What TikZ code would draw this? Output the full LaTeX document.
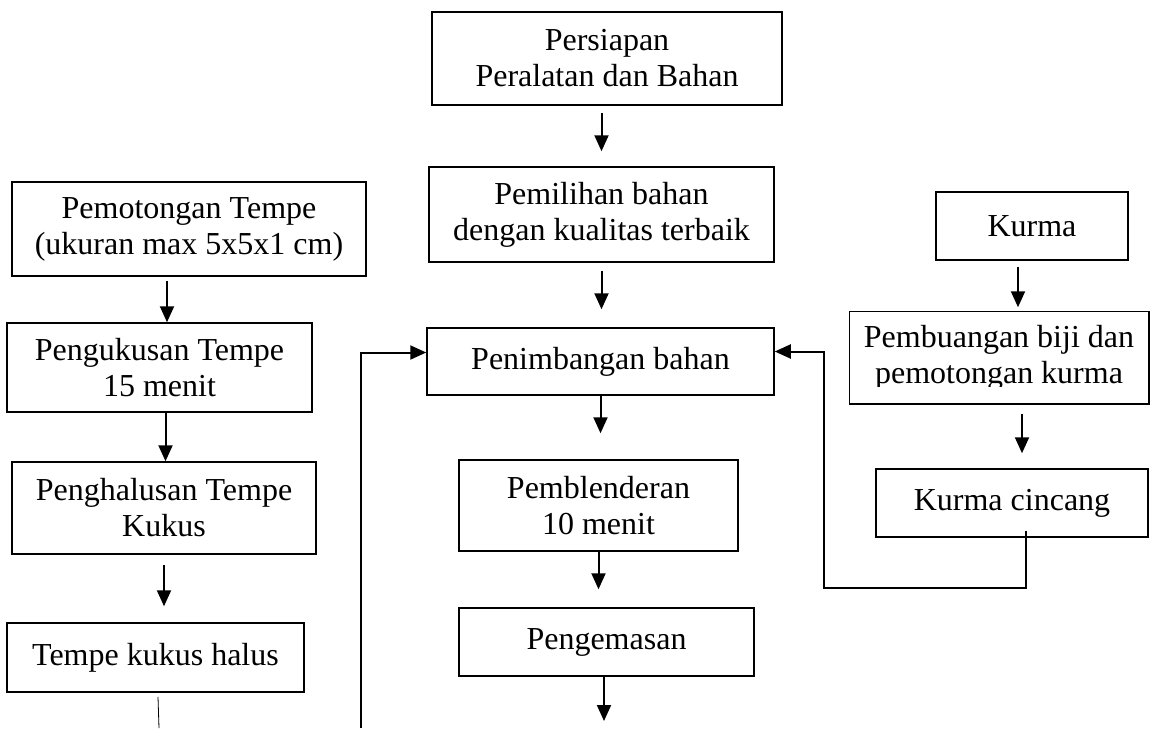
\documentclass[tikz,border=0pt]{standalone}
\usepackage{fontspec}
\setmainfont{Liberation Serif}
\usetikzlibrary{arrows.meta}

\tikzset{stage/.style={draw, line width=0.75pt, align=center, inner sep=0pt,
   font={\fontsize{16}{18}\selectfont}},
   flow/.style={-{Triangle[length=8pt,width=7pt]}, line width=1pt}}

\begin{document}
\begin{tikzpicture}[x=0.5pt,y=-0.5pt]
\useasboundingbox (0,0) rectangle (1150,728);
% middle column
\node[stage, minimum width=175pt, minimum height=46.5pt] (persiapan) at (607,58.5)
   {Persiapan\\Peralatan dan Bahan};
\node[stage, minimum width=172.5pt, minimum height=47.5pt] (pemilihan) at (601.5,214.5)
   {Pemilihan bahan\\dengan kualitas terbaik};
\node[stage, minimum width=173.5pt, minimum height=33.5pt] (penimbangan) at (600.5,361.5)
   {Penimbangan bahan};
\node[stage, minimum width=139.5pt, minimum height=45.5pt] (pemblenderan) at (598.5,505.5)
   {Pemblenderan\\10 menit};
\node[stage, minimum width=147.5pt, minimum height=34pt] (pengemasan) at (606.5,642)
   {Pengemasan};
% left column
\node[stage, minimum width=177pt, minimum height=47pt] (pemotongan) at (189,229)
   {Pemotongan Tempe\\(ukuran max 5x5x1 cm)};
\node[stage, minimum width=152.5pt, minimum height=44.5pt] (pengukusan) at (159.5,367.5)
   {Pengukusan Tempe\\15 menit};
\node[stage, minimum width=152pt, minimum height=46pt] (penghalusan) at (164,508)
   {Penghalusan Tempe\\Kukus};
\node[stage, minimum width=148.5pt, minimum height=34.5pt] (tempe) at (155.5,657.5)
   {Tempe kukus halus};
% right column
\node[stage, minimum width=96pt, minimum height=34pt] (kurma) at (1032,226)
   {Kurma};
\begin{scope}
  \clip (850,300) rectangle (1150,386);
  \node[stage, draw=none, minimum width=149pt, minimum height=45.5pt] (pembuangan) at (999,357.5)
     {Pembuangan biji dan\\pemotongan kurma};
\end{scope}
\draw[line width=0.75pt] (pembuangan.south west) rectangle (pembuangan.north east);
\node[stage, minimum width=136pt, minimum height=34pt] (cincang) at (1012,503)
   {Kurma cincang};

% free ends at the lower edge
\coordinate (packed) at (604,721);
\coordinate (tempe end) at (159,728);
\coordinate (loop start) at (361,728);

% connectors
\draw[flow, shorten <=3.5pt, shorten >=7.5pt] (pemilihan.north |- persiapan.south) -- (pemilihan.north);
\draw[flow, shorten <=4pt, shorten >=9pt] (pemilihan.south) -- (pemilihan.south |- penimbangan.north);
\draw[flow, shorten >=13pt] (penimbangan.south) -- (penimbangan.south |- pemblenderan.north);
\draw[flow, shorten >=9pt] (pemblenderan.south) -- (pemblenderan.south |- pengemasan.north);
\draw[flow] (pengemasan.south -| packed) -- (packed);

\draw[flow, shorten <=2pt] ([xshift=-11pt]pemotongan.south) -- ([xshift=-11pt]pemotongan.south |- pengukusan.north);
\draw[flow] ([xshift=3pt]pengukusan.south) -- ([xshift=3pt]pengukusan.south |- penghalusan.north);
\draw[flow, shorten <=5pt, shorten >=8pt] (penghalusan.south) -- (penghalusan.south |- tempe.north);
\draw[line width=0.4pt] ([shift={(2.5,4)}]tempe.south) -- (tempe end);
\draw[flow] (loop start) |- ([shift={(0,-9)}]penimbangan.west);

\draw[flow, shorten <=3pt, shorten >=2pt] ([xshift=-7pt]kurma.south) -- ([xshift=-7pt]kurma.south |- pembuangan.north);
\draw[flow, shorten <=5pt, shorten >=7.5pt] ([xshift=11.5pt]pembuangan.south) -- ([xshift=11.5pt]pembuangan.south |- cincang.north);
\draw[flow] ([shift={(14,-7)}]cincang.south) -- ++(0,57)
   -| ([shift={(49,-10)}]penimbangan.east) -- ([shift={(0,-10)}]penimbangan.east);
\end{tikzpicture}
\end{document}
